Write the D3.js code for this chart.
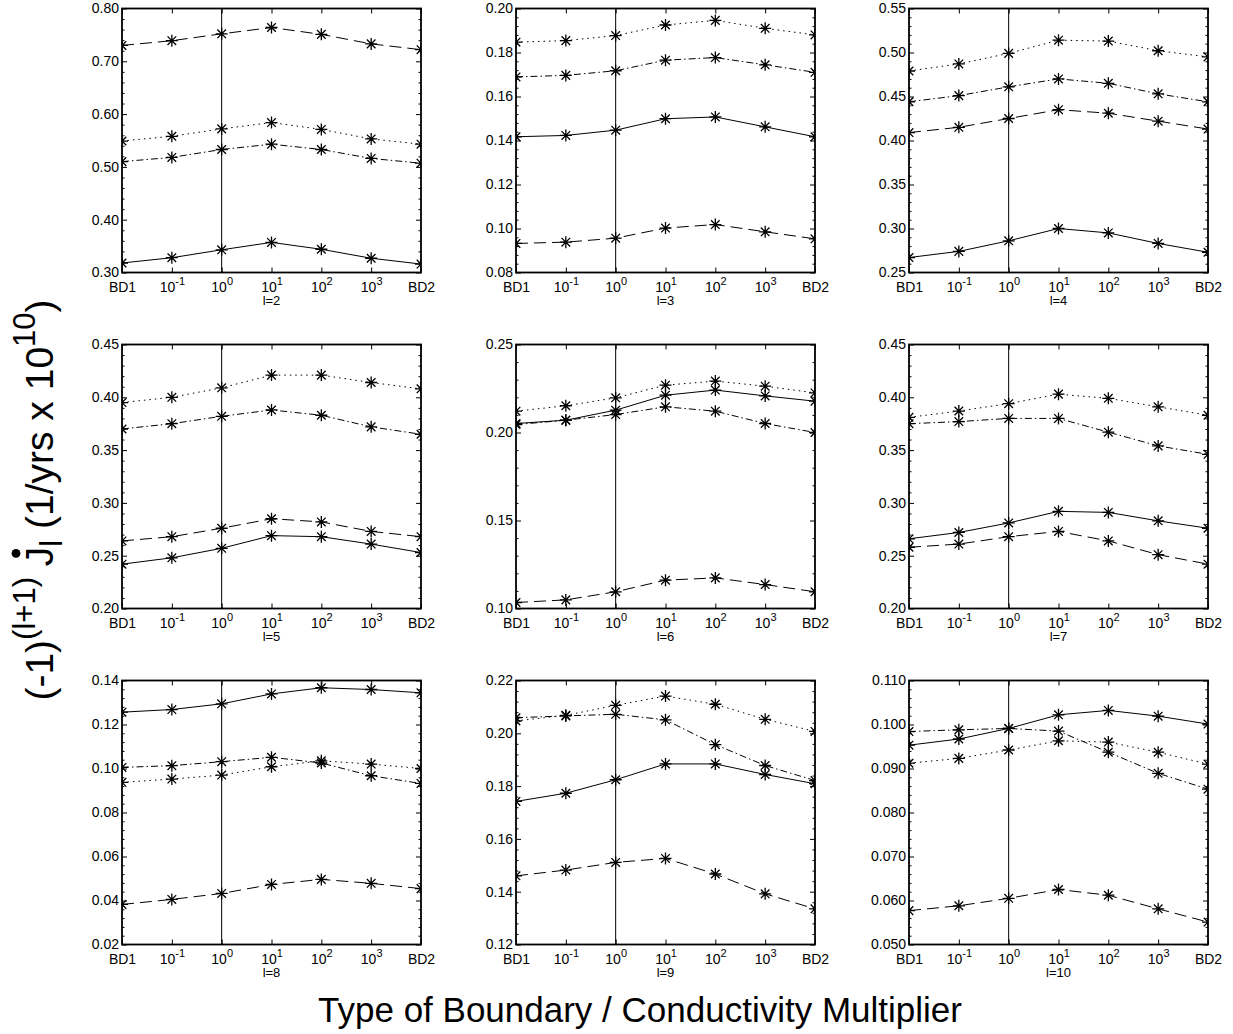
<!DOCTYPE html>
<html>
<head>
<meta charset="utf-8">
<script src="https://cdn.jsdelivr.net/npm/d3@7"></script>
<style>
body { margin: 0; background: #fff; }
svg { font-family: "Liberation Sans", Arial, Helvetica, sans-serif; }
</style>
</head>
<body>
<div id="chart"></div>
<script>
// x categories: base text and superscript
var xBase = ["BD1", "10", "10", "10", "10", "10", "BD2"];
var xExp = ["", "-1", "0", "1", "2", "3", ""];
var titles = ["l=2", "l=3", "l=4", "l=5", "l=6", "l=7", "l=8", "l=9", "l=10"];

// y tick values per panel
var yTicks = [
	[0.30, 0.40, 0.50, 0.60, 0.70, 0.80],
	[0.08, 0.10, 0.12, 0.14, 0.16, 0.18, 0.20],
	[0.25, 0.30, 0.35, 0.40, 0.45, 0.50, 0.55],
	[0.20, 0.25, 0.30, 0.35, 0.40, 0.45],
	[0.10, 0.15, 0.20, 0.25],
	[0.20, 0.25, 0.30, 0.35, 0.40, 0.45],
	[0.02, 0.04, 0.06, 0.08, 0.10, 0.12, 0.14],
	[0.12, 0.14, 0.16, 0.18, 0.20, 0.22],
	[0.050, 0.060, 0.070, 0.080, 0.090, 0.100, 0.110]
];
var yDigits = [2, 2, 2, 2, 2, 2, 2, 2, 3];

// series values, one row per panel (l=2 .. l=10), 7 points each
var solid = [
	[0.318, 0.328, 0.343, 0.357, 0.344, 0.327, 0.316],
	[0.1417, 0.1423, 0.1447, 0.1499, 0.1507, 0.1462, 0.1417],
	[0.267, 0.274, 0.286, 0.300, 0.295, 0.283, 0.273],
	[0.242, 0.248, 0.257, 0.269, 0.268, 0.261, 0.253],
	[0.2051, 0.2070, 0.2127, 0.2212, 0.2241, 0.2208, 0.2178],
	[0.266, 0.272, 0.281, 0.292, 0.291, 0.283, 0.276],
	[0.1256, 0.1268, 0.1294, 0.1339, 0.1367, 0.1359, 0.1344],
	[0.1742, 0.1773, 0.1824, 0.1884, 0.1884, 0.1844, 0.1809],
	[0.0953, 0.0967, 0.0991, 0.1022, 0.1032, 0.1019, 0.1001]
];
var dashed = [
	[0.730, 0.739, 0.752, 0.764, 0.751, 0.733, 0.722],
	[0.0932, 0.0938, 0.0956, 0.1002, 0.1018, 0.0985, 0.0953],
	[0.409, 0.415, 0.425, 0.435, 0.431, 0.422, 0.413],
	[0.264, 0.268, 0.276, 0.285, 0.282, 0.273, 0.268],
	[0.1034, 0.1049, 0.1095, 0.1161, 0.1174, 0.1136, 0.1095],
	[0.258, 0.261, 0.268, 0.273, 0.264, 0.251, 0.242],
	[0.0382, 0.0405, 0.0432, 0.0473, 0.0496, 0.0478, 0.0454],
	[0.1460, 0.1482, 0.1511, 0.1526, 0.1467, 0.1392, 0.1335],
	[0.0577, 0.0588, 0.0605, 0.0625, 0.0612, 0.0581, 0.0551]
];
var dotted = [
	[0.549, 0.558, 0.572, 0.584, 0.571, 0.553, 0.543],
	[0.1847, 0.1854, 0.1877, 0.1925, 0.1946, 0.1910, 0.1880],
	[0.479, 0.487, 0.499, 0.514, 0.513, 0.502, 0.495],
	[0.395, 0.400, 0.409, 0.421, 0.421, 0.414, 0.408],
	[0.2121, 0.2152, 0.2197, 0.2269, 0.2292, 0.2263, 0.2225],
	[0.381, 0.387, 0.394, 0.403, 0.399, 0.391, 0.383],
	[0.0937, 0.0952, 0.0970, 0.1008, 0.1035, 0.1020, 0.1000],
	[0.2047, 0.2068, 0.2106, 0.2141, 0.2110, 0.2053, 0.2007],
	[0.0912, 0.0923, 0.0942, 0.0963, 0.0960, 0.0937, 0.0910]
];
var dashDot = [
	[0.510, 0.518, 0.533, 0.543, 0.533, 0.516, 0.507],
	[0.1689, 0.1696, 0.1717, 0.1765, 0.1777, 0.1744, 0.1710],
	[0.444, 0.451, 0.461, 0.470, 0.465, 0.453, 0.444],
	[0.370, 0.375, 0.382, 0.388, 0.383, 0.372, 0.365],
	[0.2045, 0.2070, 0.2102, 0.2146, 0.2121, 0.2051, 0.2000],
	[0.375, 0.377, 0.380, 0.380, 0.367, 0.354, 0.346],
	[0.1005, 0.1013, 0.1031, 0.1051, 0.1025, 0.0967, 0.0932],
	[0.2059, 0.2066, 0.2072, 0.2051, 0.1957, 0.1878, 0.1821],
	[0.0984, 0.0988, 0.0991, 0.0985, 0.0937, 0.0889, 0.0853]
];

var series = [
	{ values: solid, dash: null },
	{ values: dashed, dash: "12,6" },
	{ values: dotted, dash: "1.5,4" },
	{ values: dashDot, dash: "7,3,1.5,3" }
];

var W = 1233, H = 1034;
var colLeft = [122, 516, 909];
var rowTop = [8.5, 344.5, 680.5];
var pw = 299, ph = 264;

var svg = d3.select("#chart")
	.append("svg")
	.attr("width", W)
	.attr("height", H);

var x = d3.scalePoint()
	.domain(d3.range(7))
	.range([0, pw]);

// asterisk marker: vertical, horizontal and two diagonals
var star = "M0,-6L0,6M-6,0L6,0M-4.3,-4.3L4.3,4.3M-4.3,4.3L4.3,-4.3";

for (var p = 0; p < 9; p++) {
	var ticks = yTicks[p];
	var y = d3.scaleLinear()
		.domain([ticks[0], ticks[ticks.length - 1]])
		.range([ph, 0]);
	var step = ticks[1] - ticks[0];
	var minor = d3.range(ticks[0], ticks[ticks.length - 1] + step / 20, step / 5)
		.filter(function(v) { return ticks.every(function(t) { return Math.abs(t - v) > step / 50; }); });

	var g = svg.append("g")
		.attr("transform", "translate(" + colLeft[p % 3] + "," + rowTop[Math.floor(p / 3)] + ")");

	g.append("clipPath").attr("id", "clip" + p)
		.append("rect").attr("width", pw).attr("height", ph);

	// y axes left / right
	var fmt = d3.format("." + yDigits[p] + "f");
	g.append("g")
		.call(d3.axisLeft(y).tickValues(ticks).tickSize(-5).tickPadding(3).tickFormat(fmt))
		.call(function(a) { a.select(".domain").remove(); a.selectAll("text").style("font-size", "14px"); });
	g.append("g")
		.call(d3.axisLeft(y).tickValues(minor).tickSize(-2.5).tickFormat(""))
		.call(function(a) { a.select(".domain").remove(); });
	g.append("g")
		.attr("transform", "translate(" + pw + ",0)")
		.call(d3.axisRight(y).tickValues(ticks).tickSize(-5).tickFormat(""))
		.call(function(a) { a.select(".domain").remove(); });
	g.append("g")
		.attr("transform", "translate(" + pw + ",0)")
		.call(d3.axisRight(y).tickValues(minor).tickSize(-2.5).tickFormat(""))
		.call(function(a) { a.select(".domain").remove(); });

	// x axes bottom / top
	var xb = g.append("g")
		.attr("transform", "translate(0," + ph + ")")
		.call(d3.axisBottom(x).tickSize(-5).tickFormat(""))
		.call(function(a) { a.select(".domain").remove(); });
	g.append("g")
		.call(d3.axisTop(x).tickSize(-5).tickFormat(""))
		.call(function(a) { a.select(".domain").remove(); });

	xb.selectAll(".tick").each(function(d) {
		var t = d3.select(this).append("text")
			.attr("fill", "#000")
			.attr("y", 19)
			.attr("text-anchor", "middle")
			.style("font-size", "14px");
		t.append("tspan").text(xBase[d]);
		if (xExp[d] !== "") {
			t.append("tspan").attr("dy", -7).style("font-size", "11px").text(xExp[d]);
		}
	});

	g.append("text")
		.attr("x", pw / 2)
		.attr("y", ph + 32)
		.attr("text-anchor", "middle")
		.style("font-size", "13px")
		.text(titles[p]);

	// vertical reference line at 10^0
	g.append("line")
		.attr("x1", x(2)).attr("x2", x(2))
		.attr("y1", 0).attr("y2", ph)
		.attr("stroke", "#000").attr("stroke-width", 1);

	var plot = g.append("g").attr("clip-path", "url(#clip" + p + ")");
	var line = d3.line()
		.x(function(d, i) { return x(i); })
		.y(function(d) { return y(d); });

	series.forEach(function(s) {
		var vals = s.values[p];
		plot.append("path")
			.attr("d", line(vals))
			.attr("fill", "none")
			.attr("stroke", "#000")
			.attr("stroke-width", 1)
			.attr("stroke-dasharray", s.dash);
		plot.selectAll(null)
			.data(vals)
			.enter()
			.append("path")
			.attr("d", star)
			.attr("transform", function(d, i) { return "translate(" + x(i) + "," + y(d) + ")"; })
			.attr("stroke", "#000")
			.attr("stroke-width", 1.3)
			.attr("fill", "none");
	});

	g.append("rect")
		.attr("width", pw).attr("height", ph)
		.attr("fill", "none")
		.attr("stroke", "#000")
		.attr("stroke-width", 1.8);
}

// y axis label
var yl = svg.append("text")
	.attr("transform", "translate(53,500) rotate(-90)")
	.attr("text-anchor", "middle")
	.style("font-size", "39px");
yl.append("tspan").text("(-1)");
yl.append("tspan").attr("dy", -18).style("font-size", "31px").text("(l+1)");
yl.append("tspan").attr("dy", 18).text(" J");
yl.append("tspan").attr("dy", 9).style("font-size", "31px").text("l");
yl.append("tspan").attr("dy", -9).text(" (1/yrs x 10");
yl.append("tspan").attr("dy", -18).style("font-size", "31px").text("10");
yl.append("tspan").attr("dy", 18).text(")");

// dot over J
var node = yl.node();
var jIdx = node.textContent.indexOf("J");
var p0 = node.getStartPositionOfChar(jIdx);
var p1 = node.getEndPositionOfChar(jIdx);
svg.append("circle")
	.attr("transform", "translate(53,500) rotate(-90)")
	.attr("cx", (p0.x + p1.x) / 2 + 3)
	.attr("cy", -37)
	.attr("r", 4.4)
	.attr("fill", "#000");

// x axis label
svg.append("text")
	.attr("x", 640)
	.attr("y", 1022)
	.attr("text-anchor", "middle")
	.style("font-size", "35px")
	.text("Type of Boundary / Conductivity Multiplier");
</script>
</body>
</html>
